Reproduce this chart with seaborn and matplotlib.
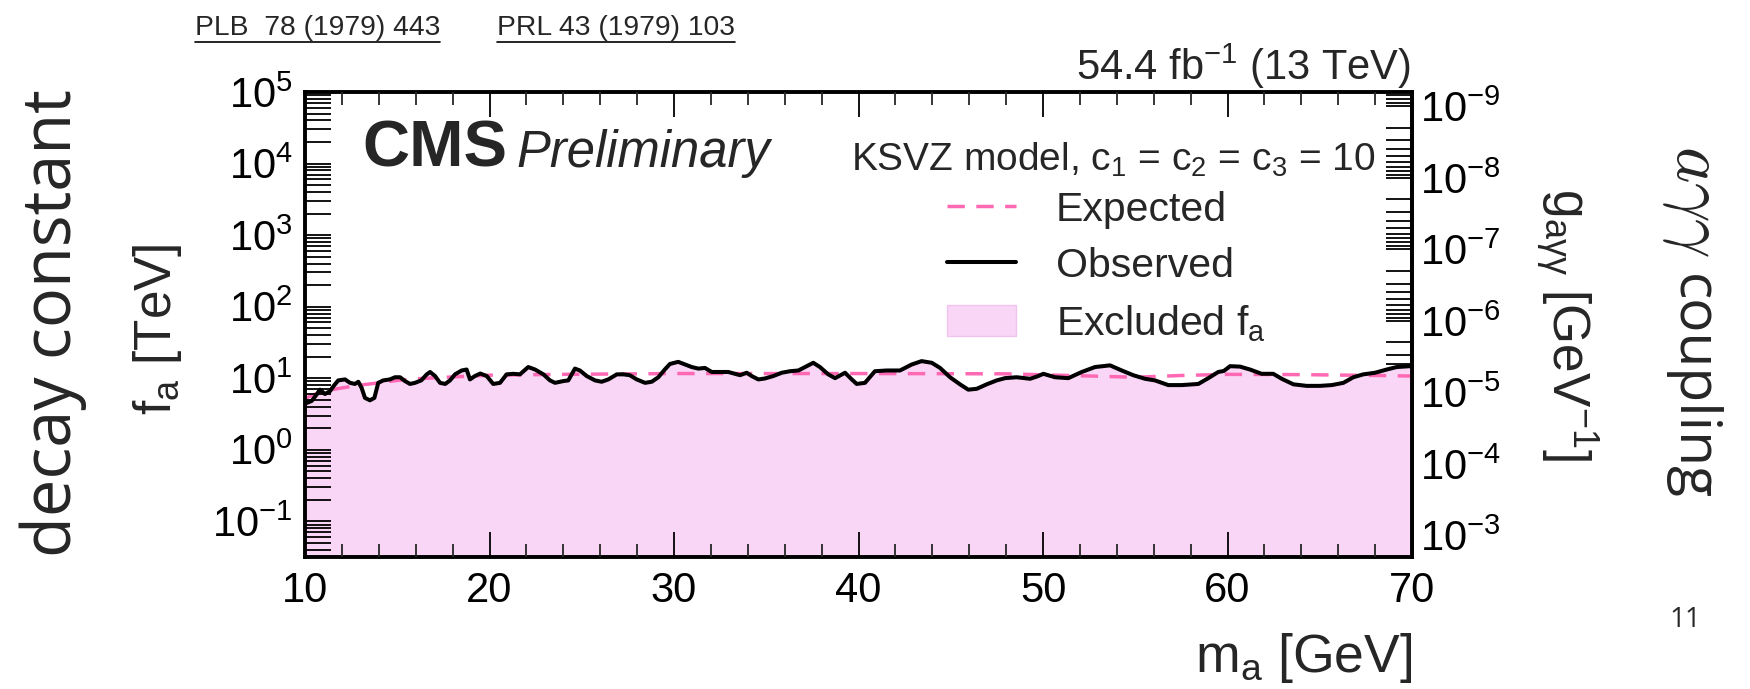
import numpy as np
import matplotlib
matplotlib.use("Agg")
import matplotlib.pyplot as plt
import seaborn as sns
from matplotlib.lines import Line2D
from matplotlib.patches import Patch
from matplotlib.ticker import LogLocator, NullFormatter, MultipleLocator

# ---- limits on the axion decay constant (KSVZ model) ----
mass_obs = [10.0, 10.09, 10.36, 10.63, 10.81, 11.08, 11.36, 11.54, 11.80, 12.17,
            12.44, 12.71, 12.89, 13.07, 13.25, 13.52, 13.76, 13.97, 14.24, 14.60,
            14.88, 15.15, 15.42, 15.69, 15.96, 16.30, 16.60, 16.78, 17.05, 17.32,
            17.60, 17.86, 18.13, 18.49, 18.76, 18.94, 19.21, 19.50, 19.85, 20.20,
            20.57, 20.93, 21.29, 21.65, 22.10, 22.47, 22.92, 23.28, 23.55, 24.00,
            24.27, 24.63, 24.90, 25.27, 25.72, 26.08, 26.44, 26.90, 27.26, 27.60,
            27.98, 28.43, 28.79, 29.15, 29.50, 29.78, 30.23, 30.60, 30.96, 31.32,
            31.68, 32.04, 32.49, 32.94, 33.31, 33.58, 33.94, 34.21, 34.57, 34.93,
            35.38, 35.84, 36.29, 36.74, 37.19, 37.55, 37.91, 38.36, 38.73, 39.27,
            39.60, 39.90, 40.35, 40.89, 41.53, 42.25, 42.88, 43.42, 43.97, 44.42,
            44.96, 45.50, 45.95, 46.41, 46.95, 47.49, 47.94, 48.57, 49.30, 49.70,
            50.02, 50.65, 51.37, 52.10, 52.82, 53.63, 54.27, 54.89, 55.53, 56.07,
            56.79, 57.52, 58.42, 58.96, 59.50, 59.80, 60.14, 60.68, 61.22, 61.85,
            62.48, 62.94, 63.57, 64.29, 65.01, 65.65, 66.28, 66.82, 67.36, 68.00,
            68.63, 69.17, 69.89, 70.0]
fa_obs = [4.4, 4.5, 4.8, 5.9, 6.9, 6.0, 6.6, 7.7, 9.3, 9.6,
          8.6, 8.3, 8.9, 7.3, 5.3, 4.9, 5.3, 8.6, 9.3, 9.6,
          10.3, 10.3, 9.1, 8.3, 8.6, 9.3, 11.3, 12.2, 10.7, 8.6,
          8.3, 9.3, 11.3, 12.8, 13.2, 9.6, 10.7, 11.6, 10.7, 8.3,
          8.6, 11.3, 11.5, 11.3, 14.3, 13.2, 11.3, 9.3, 8.6, 9.1,
          9.3, 13.6, 12.8, 10.7, 9.3, 8.9, 9.6, 11.3, 11.3, 11.0,
          9.6, 8.6, 8.9, 10.3, 13.2, 15.8, 16.9, 15.5, 14.3, 13.6,
          13.9, 12.2, 12.2, 12.2, 11.5, 11.0, 11.9, 10.7, 9.6, 9.9,
          10.7, 11.9, 12.5, 12.8, 14.7, 16.4, 14.3, 11.3, 10.0, 11.9,
          9.8, 8.3, 8.6, 12.5, 12.8, 12.8, 15.5, 17.3, 16.4, 13.9,
          10.3, 8.2, 6.9, 7.1, 8.2, 9.3, 10.0, 10.3, 9.8, 10.6,
          11.5, 10.3, 10.0, 12.2, 14.3, 15.1, 12.8, 11.0, 9.8, 9.3,
          8.0, 8.0, 8.3, 10.0, 12.2, 12.6, 14.7, 14.5, 13.2, 11.5,
          11.5, 9.8, 8.2, 7.8, 7.8, 8.0, 8.6, 10.3, 11.3, 11.9,
          13.2, 14.3, 14.7, 14.7]

mass_exp = [10.0, 10.5, 11.0, 12.0, 13.0, 14.0, 15.0, 16.0, 17.0, 18.0, 19.0,
            20.0, 24.0, 30.0, 40.0, 48.0, 52.0, 55.0, 57.5, 60.0, 64.0, 68.0, 70.0]
fa_exp = [5.2, 5.9, 6.6, 7.3, 8.0, 8.6, 9.3, 9.8, 10.1, 10.4, 10.7,
          11.0, 11.3, 11.6, 11.6, 11.5, 10.8, 10.3, 10.9, 11.3, 11.2, 10.9, 10.7]

legend_labels = ["Expected", "Observed", r"Excluded f$_{\rm a}$"]

# axis ranges; g_agg = G_CONV / f_a for the right-hand scale
MASS_RANGE = (10, 70)
FA_RANGE = (10 ** -1.5, 1e5)
G_CONV = 10 ** -4.2

FILL = "#f9d6f6"
PINK = "#ff69b4"

sns.set_theme(style="ticks")
plt.rcParams["font.family"] = ["Liberation Sans", "DejaVu Sans"]
plt.rcParams["mathtext.fontset"] = "custom"
plt.rcParams["mathtext.rm"] = "Liberation Sans"
plt.rcParams["mathtext.it"] = "Liberation Sans:italic"
plt.rcParams["mathtext.bf"] = "Liberation Sans:bold"
plt.rcParams["mathtext.default"] = "regular"

W, H = 1750, 689
fig = plt.figure(figsize=(W / 100, H / 100), dpi=100)
fig.patch.set_facecolor("white")

L, R, T, B = 305, 1412, 92, 557
ax = fig.add_axes([L / W, 1 - B / H, (R - L) / W, (B - T) / H])
ax.set_facecolor("white")
ax.set_yscale("log")
ax.set_xlim(*MASS_RANGE)
ax.set_ylim(*FA_RANGE)

ax.fill_between(mass_obs, FA_RANGE[0], fa_obs, color=FILL, lw=0, zorder=1)
sns.lineplot(x=mass_exp, y=fa_exp, ax=ax, color=PINK, lw=2.5,
             linestyle=(0, (5, 3.3)), estimator=None, sort=False, zorder=2)
sns.lineplot(x=mass_obs, y=fa_obs, ax=ax, color="black", lw=2.9,
             estimator=None, sort=False, zorder=3)
ax.set_xlim(*MASS_RANGE)
ax.set_ylim(*FA_RANGE)
ax.set_axisbelow(False)

# ticks
ax.xaxis.set_major_locator(MultipleLocator(10))
ax.xaxis.set_minor_locator(MultipleLocator(2))
ax.yaxis.set_major_locator(LogLocator(base=10, numticks=30))
ax.yaxis.set_minor_locator(LogLocator(base=10, subs=np.arange(2, 10) * 1.0, numticks=30))
ax.yaxis.set_minor_formatter(NullFormatter())
ax.tick_params(axis="x", which="major", direction="in", length=18, width=1.3,
               top=True, bottom=True, pad=10, labelsize=30, colors="black")
ax.tick_params(axis="x", which="minor", direction="in", length=9.4, width=1.3,
               top=True, bottom=True)
ax.tick_params(axis="y", which="both", direction="in", length=19, width=1.3,
               left=True, right=False, pad=9, labelsize=30, colors="black")
for s in ax.spines.values():
    s.set_linewidth(2.8)
    s.set_color("black")

sec = ax.secondary_yaxis("right",
                         functions=(lambda v: G_CONV / np.clip(v, 1e-300, None),
                                    lambda v: G_CONV / np.clip(v, 1e-300, None)))
sec.yaxis.set_major_locator(LogLocator(base=10, numticks=30))
sec.yaxis.set_minor_locator(LogLocator(base=10, subs=np.arange(2, 10) * 1.0, numticks=30))
sec.yaxis.set_minor_formatter(NullFormatter())
sec.tick_params(axis="y", which="both", direction="in", length=19, width=1.3,
                pad=6, labelsize=30, colors="black")
sec.spines["right"].set_linewidth(2.8)

# axis titles
ax.set_xlabel(r"m$_{\rm a}$ [GeV]", loc="right", fontsize=38.5)
ax.xaxis.set_label_coords(1.0, -0.16)
ax.set_ylabel(r"f$_{\rm a}$ [TeV]", fontsize=37)
ax.yaxis.set_label_coords(-0.109, 0.49)
fig.text(1566 / W, 1 - 325 / H, "g$_{aγγ}$ [GeV$^{-1}$]", rotation=270,
         ha="center", va="center", fontsize=37)

# plot annotations
ax.text(0.0515, 0.839, "CMS", transform=ax.transAxes, fontsize=47,
        fontweight="bold", va="baseline", ha="left")
ax.text(0.1906, 0.839, "Preliminary", transform=ax.transAxes, fontsize=36.5,
        style="italic", va="baseline", ha="left")
ax.text(0.9666, 0.830, "KSVZ model, c$_1$ = c$_2$ = c$_3$ = 10",
        transform=ax.transAxes, fontsize=28, va="baseline", ha="right")
ax.text(0.9986, 1.0258, "54.4 fb$^{-1}$ (13 TeV)", transform=ax.transAxes,
        fontsize=30, va="baseline", ha="right")

handles = [Line2D([], [], color=PINK, lw=2.5, linestyle=(0, (5, 3.3))),
           Line2D([], [], color="black", lw=2.9),
           Patch(facecolor=FILL, edgecolor="#f0c4ee", lw=1)]
ax.legend(handles, legend_labels, loc="upper left",
          bbox_to_anchor=(947 / W, 1 - 191 / H), bbox_transform=fig.transFigure,
          frameon=False, fontsize=29.5, borderpad=0, borderaxespad=0,
          handlelength=1.68, handletextpad=0.98, labelspacing=0.44,
          handleheight=0.78)

# slide side text
fig.text(53 / W, 1 - 323 / H, "decay constant", rotation=90, ha="center",
         va="center", fontsize=48, family=["Open Sans", "DejaVu Sans"])
side_x = 1677 / W
fig.text(side_x, 1 - 145 / H, r"$\mathit{a\gamma\gamma}$", rotation=270,
         rotation_mode="anchor", ha="left", va="baseline", fontsize=50,
         math_fontfamily="cm")
fig.text(side_x, 1 - 500 / H, "coupling", rotation=270,
         rotation_mode="anchor", ha="right", va="baseline", fontsize=41,
         family=["Open Sans", "DejaVu Sans"])
fig.text(1685 / W, 1 - 620 / H, "11", ha="center", va="center", fontsize=20,
         family=["Open Sans", "DejaVu Sans"])

refs = [fig.text(195 / W, 1 - 35 / H, "PLB  78 (1979) 443", fontsize=20.3,
                 family=["Liberation Sans Narrow", "Liberation Sans"], va="baseline"),
        fig.text(497 / W, 1 - 35 / H, "PRL 43 (1979) 103", fontsize=20.3,
                 family=["Liberation Sans Narrow", "Liberation Sans"], va="baseline")]
fig.canvas.draw()
renderer = fig.canvas.get_renderer()
inv = fig.transFigure.inverted()
for t in refs:
    bb = t.get_window_extent(renderer)
    (x0, y0), (x1, _) = inv.transform([(bb.x0, bb.y0 - 1), (bb.x1, bb.y0 - 1)])
    fig.add_artist(Line2D([x0, x1], [y0, y0], color="black", lw=1.2,
                          transform=fig.transFigure))

fig.savefig("out.png", dpi=100, facecolor="white")
